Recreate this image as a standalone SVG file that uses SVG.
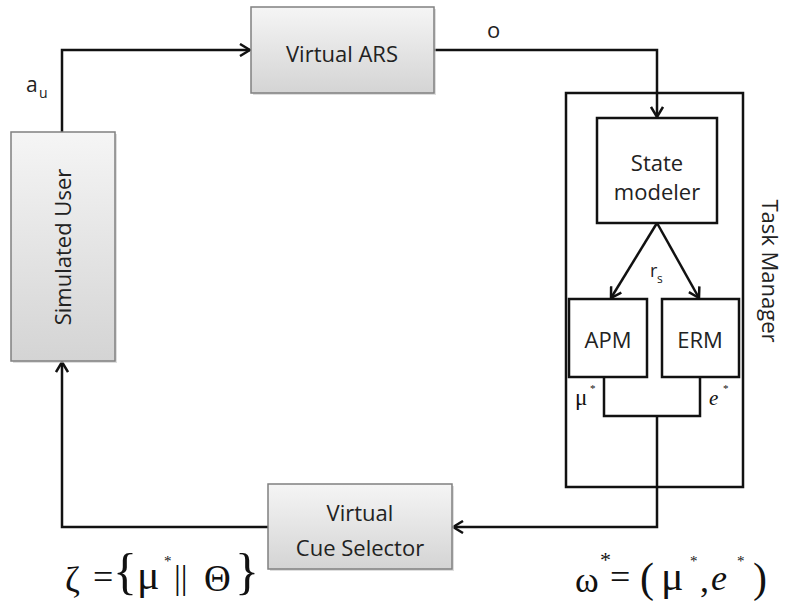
<svg xmlns="http://www.w3.org/2000/svg" width="787" height="601" viewBox="0 0 787 601">
  <defs>
    <linearGradient id="grayFill" x1="0" y1="0" x2="0" y2="1">
      <stop offset="0" stop-color="#f5f5f5"/>
      <stop offset="1" stop-color="#d4d4d4"/>
    </linearGradient>
    <marker id="openArrow" viewBox="0 0 12 14" refX="11" refY="7" markerWidth="12" markerHeight="14" markerUnits="userSpaceOnUse" orient="auto">
      <path d="M1,1 L11,7 L1,13" fill="none" stroke="#111" stroke-width="2.5" stroke-linejoin="miter"/>
    </marker>
  </defs>
  <style>
    .shaded { fill: url(#grayFill); stroke: #808080; stroke-width: 1.5; }
    .shadow { fill: #c8c8c8; opacity: 0.6; }
    .plain { fill: #ffffff; stroke: #111111; stroke-width: 2.5; }
    .frame { fill: none; stroke: #111111; stroke-width: 2.5; }
    .lbl { font-family: "Open Sans", "Liberation Sans", sans-serif; font-size: 22px; fill: #222; text-anchor: middle; }
    .sym { font-family: "Open Sans", "Liberation Sans", sans-serif; fill: #222; }
    .math { font-family: "Liberation Serif", "DejaVu Serif", serif; fill: #111; }
    .wire { fill: none; stroke: #111111; stroke-width: 2.5; }
    .arrow { marker-end: url(#openArrow); }
  </style>

  <rect width="787" height="601" fill="#ffffff"/>

  <!-- Task Manager container -->
  <g id="task-manager">
    <rect class="frame" x="566" y="93" width="177" height="394"/>
    <text class="lbl" font-size="21" transform="translate(762,271) rotate(90)">Task Manager</text>
  </g>

  <!-- connectors -->
  <g id="connectors">
    <path class="wire arrow" d="M62,132 V50 H250"/>
    <path class="wire arrow" d="M434,50 H657 V117"/>
    <path class="wire arrow" d="M657,223 L611,298"/>
    <path class="wire arrow" d="M657,223 L699,298"/>
    <path class="wire" d="M604,377 V416 H700 V377"/>
    <path class="wire arrow" d="M657,416 V527 H453"/>
    <path class="wire arrow" d="M268,527 H62 V362"/>
  </g>

  <g id="virtual-ars">
    <rect class="shadow" x="253" y="9" width="183" height="86"/>
    <rect class="shaded" x="251" y="7" width="183" height="86"/>
    <text class="lbl" x="342" y="62">Virtual ARS</text>
  </g>

  <g id="simulated-user">
    <rect class="shadow" x="13" y="134" width="104" height="229"/>
    <rect class="shaded" x="11" y="132" width="104" height="229"/>
    <text class="lbl" transform="translate(71,247) rotate(-90)">Simulated User</text>
  </g>

  <g id="cue-selector">
    <rect class="shadow" x="270" y="486" width="184" height="85"/>
    <rect class="shaded" x="268" y="484" width="184" height="85"/>
    <text class="lbl" x="360" y="521">Virtual</text>
    <text class="lbl" x="360" y="556">Cue Selector</text>
  </g>

  <g id="state-modeler">
    <rect class="plain" x="597" y="118" width="120" height="105"/>
    <text class="lbl" x="657" y="171">State</text>
    <text class="lbl" x="657" y="200">modeler</text>
  </g>

  <g id="apm">
    <rect class="plain" x="569" y="299" width="78" height="78"/>
    <text class="lbl" x="608" y="348">APM</text>
  </g>

  <g id="erm">
    <rect class="plain" x="662" y="299" width="77" height="78"/>
    <text class="lbl" x="700" y="348">ERM</text>
  </g>

  <!-- edge labels -->
  <g id="labels">
    <text class="sym" x="26" y="92" font-size="21">a</text>
    <text class="sym" x="39" y="98" font-size="14">u</text>
    <text class="sym" x="487" y="38" font-size="22">o</text>
    <text class="sym" x="650" y="277" font-size="18">r</text>
    <text class="sym" x="657" y="283" font-size="12">s</text>
    <text class="math" x="575" y="405" font-size="23">μ</text>
    <text class="math" x="590" y="392" font-size="11">*</text>
    <text class="math" x="709" y="405" font-size="21" font-style="italic">e</text>
    <text class="math" x="723" y="392" font-size="11">*</text>
  </g>

  <!-- cue formula -->
  <g id="formula-cue">
    <text class="math" x="65" y="592" font-size="36">ζ</text>
    <text class="math" x="93" y="589" font-size="36">=</text>
    <text class="math" x="113" y="588" font-size="50">{</text>
    <text class="math" x="137" y="589" font-size="42">μ</text>
    <text class="math" x="164" y="566" font-size="15">*</text>
    <text class="math" x="174" y="589" font-size="34">||</text>
    <text class="math" x="204" y="591" font-size="37">Θ</text>
    <text class="math" x="235" y="588" font-size="50">}</text>
  </g>

  <!-- optimal action formula -->
  <g id="formula-action">
    <text class="math" x="575" y="592" font-size="36">ω</text>
    <text class="math" x="600" y="567" font-size="22">*</text>
    <text class="math" x="610" y="589" font-size="36">=</text>
    <text class="math" x="640" y="592" font-size="42">(</text>
    <text class="math" x="661" y="590" font-size="42">μ</text>
    <text class="math" x="690" y="566" font-size="15">*</text>
    <text class="math" x="700" y="592" font-size="36">,</text>
    <text class="math" x="711" y="590" font-size="36" font-style="italic">e</text>
    <text class="math" x="737" y="566" font-size="15">*</text>
    <text class="math" x="753" y="592" font-size="42">)</text>
  </g>
</svg>
